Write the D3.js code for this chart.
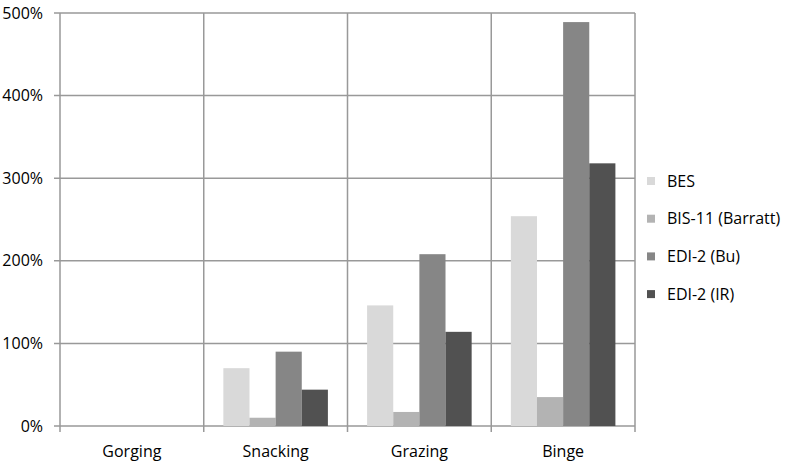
<!DOCTYPE html>
<html>
<head>
<meta charset="utf-8">
<script src="https://cdn.jsdelivr.net/npm/d3@7"></script>
<style>
body { margin: 0; background: #fff; }
text { font-family: "Open Sans", "DejaVu Sans", sans-serif; fill: #000; }
</style>
</head>
<body>
<div id="chart-area"></div>
<script>
// Data
var categories = ["Gorging", "Snacking", "Grazing", "Binge"];
var seriesNames = ["BES", "BIS-11 (Barratt)", "EDI-2 (Bu)", "EDI-2 (IR)"];
var seriesColors = ["#d9d9d9", "#b3b3b3", "#868686", "#515151"];
var bes = [0, 70, 146, 254];
var bis = [0, 10, 17, 35];
var ediBu = [0, 90, 208, 489];
var ediIr = [0, 44, 114, 318];
var yTicks = [0, 100, 200, 300, 400, 500];

var series = [bes, bis, ediBu, ediIr];

var margin = {top: 13, right: 151, bottom: 36, left: 60};
var width = 786 - margin.left - margin.right;
var height = 462 - margin.top - margin.bottom;

var svg = d3.select("#chart-area").append("svg")
		.attr("width", 786)
		.attr("height", 462)
	.append("g")
		.attr("transform", "translate(" + margin.left + "," + margin.top + ")");

// Scales
var x = d3.scaleBand()
	.domain(categories)
	.range([0, width]);

var x1 = d3.scaleBand()
	.domain(d3.range(series.length))
	.range([0, x.bandwidth()])
	.paddingOuter(0.75)
	.paddingInner(0);

var y = d3.scaleLinear()
	.domain([0, 500])
	.range([height, 0]);

var gridColor = "#999";

// Horizontal grid
svg.selectAll(".hgrid")
	.data(yTicks)
	.enter().append("line")
	.attr("class", "hgrid")
	.attr("x1", -6)
	.attr("x2", width)
	.attr("y1", function(d){ return y(d); })
	.attr("y2", function(d){ return y(d); })
	.attr("stroke", gridColor)
	.attr("stroke-width", 1.5);

// Vertical grid at category boundaries
var bounds = categories.map(function(c){ return x(c); }).concat([width]);
svg.selectAll(".vgrid")
	.data(bounds)
	.enter().append("line")
	.attr("class", "vgrid")
	.attr("x1", function(d){ return d; })
	.attr("x2", function(d){ return d; })
	.attr("y1", 0)
	.attr("y2", height + 6)
	.attr("stroke", gridColor)
	.attr("stroke-width", 1.5);

// Bars
var groups = svg.selectAll(".group")
	.data(categories)
	.enter().append("g")
	.attr("class", "group")
	.attr("transform", function(c){ return "translate(" + x(c) + ",0)"; });

groups.selectAll("rect")
	.data(function(c, i){
		return series.map(function(s, j){ return {k: j, v: s[i]}; });
	})
	.enter().append("rect")
	.attr("x", function(d){ return x1(d.k); })
	.attr("width", x1.bandwidth())
	.attr("y", function(d){ return y(d.v); })
	.attr("height", function(d){ return height - y(d.v); })
	.attr("fill", function(d){ return seriesColors[d.k]; });

// Y labels
svg.selectAll(".ylab")
	.data(yTicks)
	.enter().append("text")
	.attr("class", "ylab")
	.attr("x", -17)
	.attr("y", function(d){ return y(d); })
	.attr("dy", "0.35em")
	.attr("text-anchor", "end")
	.style("font-size", "16px")
	.text(function(d){ return d + "%"; });

// X labels
svg.selectAll(".xlab")
	.data(categories)
	.enter().append("text")
	.attr("class", "xlab")
	.attr("x", function(c){ return x(c) + x.bandwidth() / 2; })
	.attr("y", height + 25)
	.attr("dy", "0.35em")
	.attr("text-anchor", "middle")
	.style("font-size", "16px")
	.text(function(c){ return c; });

// Legend
var legend = svg.selectAll(".legend")
	.data(seriesNames)
	.enter().append("g")
	.attr("class", "legend")
	.attr("transform", function(d, i){ return "translate(" + (width + 12) + "," + (168 + i * 37.7) + ")"; });

legend.append("rect")
	.attr("x", 0)
	.attr("y", -4)
	.attr("width", 8)
	.attr("height", 8)
	.attr("fill", function(d, i){ return seriesColors[i]; });

legend.append("text")
	.attr("x", 20)
	.attr("y", 0)
	.attr("dy", "0.35em")
	.style("font-size", "16px")
	.text(function(d){ return d; });
</script>
</body>
</html>
